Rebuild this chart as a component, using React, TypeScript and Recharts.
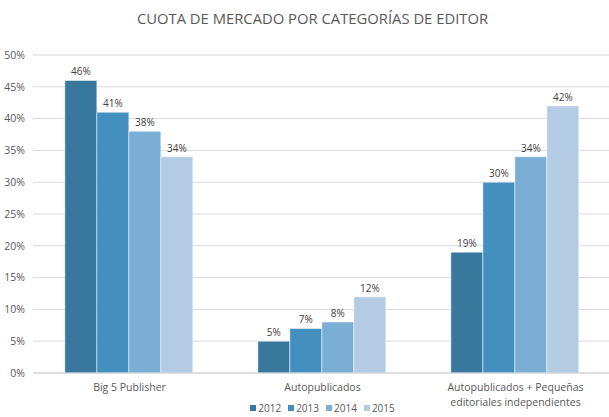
import React from "react";
import { BarChart, Bar, XAxis, YAxis, CartesianGrid, Legend, LabelList } from "recharts";

const categories = ["Big 5 Publisher", "Autopublicados", "Autopublicados + Pequeñas editoriales independientes"];
const years = ["2012", "2013", "2014", "2015"];
const values2012 = [46, 5, 19];
const values2013 = [41, 7, 30];
const values2014 = [38, 8, 34];
const values2015 = [34, 12, 42];
const yTicks = [0, 5, 10, 15, 20, 25, 30, 35, 40, 45, 50];

const colors = ["#38789c", "#4390be", "#7aaed4", "#b4cce3"];
const series = [values2012, values2013, values2014, values2015];

const data = categories.map((name, i) => {
  const row: Record<string, string | number> = { name };
  years.forEach((y, k) => {
    row[y] = series[k][i];
  });
  return row;
});

const FONT = "'Open Sans', sans-serif";

// wrap long category names onto two lines
function CategoryTick(props: any) {
  const { x, y, payload } = props;
  const text: string = payload.value;
  let lines = [text];
  if (text.length > 30) {
    const cut = text.indexOf("Pequeñas") + "Pequeñas".length;
    lines = [text.slice(0, cut), text.slice(cut + 1)];
  }
  return (
    <g transform={`translate(${x},${y})`}>
      {lines.map((l, i) => (
        <text key={i} x={0} y={i * 15} dy={10} textAnchor="middle" fill="#595959" fontSize={10.5} fontFamily={FONT}>
          {l}
        </text>
      ))}
    </g>
  );
}

function LegendContent() {
  return (
    <div
      style={{
        display: "flex",
        justifyContent: "center",
        gap: 7,
        paddingLeft: 33,
        marginTop: 4,
        fontFamily: FONT,
        fontSize: 10,
        color: "#595959",
      }}
    >
      {years.map((y, i) => (
        <span key={y} style={{ display: "flex", alignItems: "center" }}>
          <span style={{ width: 6, height: 6, background: colors[i], display: "inline-block", marginRight: 2 }} />
          {y}
        </span>
      ))}
    </div>
  );
}

export default function App() {
  return (
    <div style={{ position: "absolute", left: 0, top: 0, width: 609, height: 417, background: "#fff", overflow: "hidden" }}>
      <div
        style={{
          position: "absolute",
          top: 8,
          left: 8,
          width: 609,
          textAlign: "center",
          fontFamily: FONT,
          fontSize: 14.8,
          color: "#595959",
        }}
      >
        CUOTA DE MERCADO POR CATEGORÍAS DE EDITOR
      </div>
      <BarChart
        width={609}
        height={417}
        data={data}
        margin={{ top: 55, right: -3, left: 0, bottom: 0 }}
        barCategoryGap="16.5%"
        barGap={0}
        style={{ overflow: "visible" }}
      >
        <CartesianGrid vertical={false} stroke="#d9d9d9" />
        <XAxis
          dataKey="name"
          height={24}
          interval={0}
          tick={<CategoryTick />}
          tickLine={false}
          axisLine={{ stroke: "#d0d0d0" }}
        />
        <YAxis
          width={33}
          domain={[0, 50]}
          ticks={yTicks}
          tickFormatter={(v) => `${v}%`}
          tick={{ fill: "#595959", fontSize: 10.5, fontFamily: FONT }}
          tickLine={false}
          axisLine={false}
        />
        <Legend verticalAlign="bottom" height={20} content={<LegendContent />} />
        {years.map((y, i) => (
          <Bar key={y} dataKey={y} fill={colors[i]} stroke="#ffffff" strokeWidth={0.5} isAnimationActive={false}>
            <LabelList
              dataKey={y}
              position="top"
              offset={5}
              formatter={(v: any) => `${v}%`}
              fill="#404040"
              fontSize={10}
              fontFamily={FONT}
            />
          </Bar>
        ))}
      </BarChart>
    </div>
  );
}
